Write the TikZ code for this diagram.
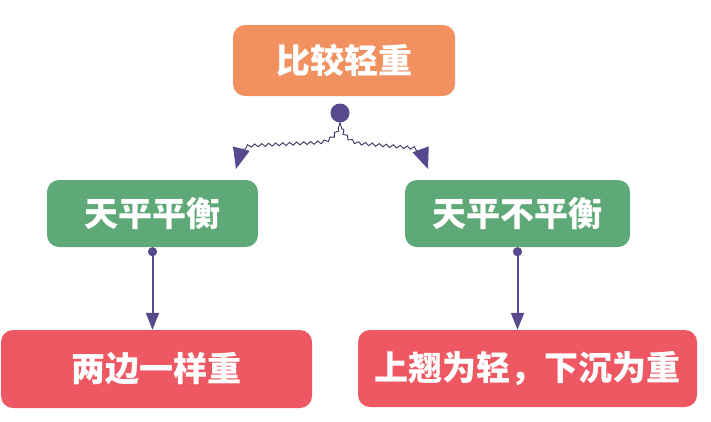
\documentclass[tikz,border=0pt]{standalone}
\usepackage{fontspec}
\newfontfamily\cjk{Noto Sans CJK SC}
\usepackage{tikz}
\usetikzlibrary{arrows.meta,decorations.pathmorphing}
\definecolor{boxorange}{RGB}{240,145,95}
\definecolor{boxgreen}{RGB}{95,168,120}
\definecolor{boxred}{RGB}{238,88,98}
\definecolor{linkpurple}{RGB}{88,72,140}
\tikzset{
    card/.style={rounded corners=12pt, text=white, inner sep=0pt,
        font=\cjk\bfseries\fontsize{34}{34}\selectfont},
    wave/.style={draw=linkpurple!70!black, line width=0.9pt,
        decorate, decoration={snake, amplitude=1.5pt, segment length=7pt, pre length=6pt, post length=14pt},
        -{Triangle[width=17pt,length=21pt,color=linkpurple]}},
    link/.style={draw=linkpurple, line width=2pt,
        {Circle[length=9pt]}-{Triangle[width=13pt,length=17pt]}}
}

\begin{document}
\begin{tikzpicture}[x=1pt,y=-1pt]
    \useasboundingbox (0,0) rectangle (711,421);
    % Draw the boxes
    \node[card, fill=boxorange, minimum width=222pt, minimum height=71pt] (compare) at (344,60.5) {比较轻重};
    \node[card, fill=boxgreen, minimum width=211pt, minimum height=67pt] (balanced) at (152.5,213.5) {天平平衡};
    \node[card, fill=boxgreen, minimum width=225pt, minimum height=67pt] (unbalanced) at (517.5,213.5) {天平不平衡};
    \node[card, fill=boxred, minimum width=311pt, minimum height=78pt] (same) at (156.5,369) {两边一样重};
    \node[card, fill=boxred, minimum width=339pt, minimum height=77pt] (updown) at (527.5,368.5) {上翘为轻，下沉为重};
    % Draw the wavy split
    \node[circle, fill=linkpurple, minimum size=19pt, inner sep=0pt] (hub) at (340,113) {};
    \coordinate (lefttip) at (236,169);
    \coordinate (righttip) at (428,169);
    \draw[wave] (hub.south) to[out=-100,in=0] (318,141) -- (252,144) to[out=180,in=75] (lefttip);
    \draw[wave] (hub.south) to[out=-80,in=180] (362,142) -- (410,146) to[out=0,in=110] (righttip);
    % Draw the straight links
    \draw[link] (balanced.south) -- (same.north -| balanced.south);
    \draw[link] (unbalanced.south) -- (updown.north -| unbalanced.south);
\end{tikzpicture}
\end{document}
